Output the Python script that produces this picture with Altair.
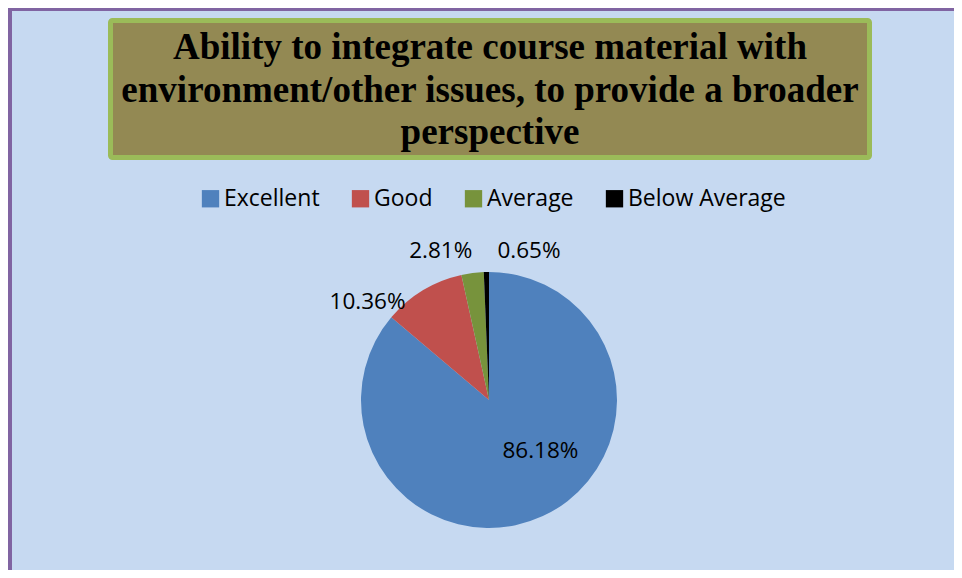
import altair as alt
import pandas as pd

categories = ["Excellent", "Good", "Average", "Below Average"]
values = [86.18, 10.36, 2.81, 0.65]
colors = ["#4F81BD", "#C0504D", "#77933C", "#000000"]
title_lines = [
    "Ability to integrate course material with",
    "environment/other issues, to provide a broader",
    "perspective",
]

df = pd.DataFrame({"category": categories, "value": values,
                   "rank": list(range(len(categories)))})
dummy = pd.DataFrame({"a": [0]})

W, H = 946, 562
CX, CY = 481, 392
R = 128

theta_scale = alt.Scale(domain=[0, 100], range=[0, 6.283185307179586])
color_scale = alt.Scale(domain=categories, range=colors)

base = alt.Chart(df).transform_stack(
    stack="value", groupby=[], as_=["v0", "v1"],
    sort=[alt.SortField("rank", order="ascending")],
).transform_calculate(
    mid="(datum.v0 + datum.v1) / 2",
    label="format(datum.value, '.2f') + '%'",
)

# decorative frame
left_border = alt.Chart(dummy).mark_rect(color="#8064A2").encode(
    x=alt.value(0), x2=alt.value(4), y=alt.value(0), y2=alt.value(H))
top_border = alt.Chart(dummy).mark_rect(color="#8064A2").encode(
    x=alt.value(0), x2=alt.value(W), y=alt.value(0), y2=alt.value(3))

title_box = alt.Chart(dummy).mark_rect(
    fill="#938953", stroke="#9BBB59", strokeWidth=5, cornerRadius=2
).encode(x=alt.value(102.5), x2=alt.value(861.5), y=alt.value(12.5), y2=alt.value(149.5))

title_text = alt.Chart(dummy).mark_text(
    font="Liberation Serif", fontWeight="bold", fontSize=37, color="black",
    align="center", baseline="alphabetic", lineHeight=42.5
).encode(x=alt.value(482), y=alt.value(51), text=alt.value(title_lines))

pie = base.mark_arc(outerRadius=R).encode(
    theta=alt.Theta("v0:Q", scale=theta_scale),
    theta2="v1:Q",
    color=alt.Color(
        "category:N", scale=color_scale,
        legend=alt.Legend(
            orient="none", legendX=191, legendY=179, direction="horizontal",
            title=None, symbolType="square", symbolSize=300, symbolStrokeWidth=0,
            symbolOpacity=1, labelFont="Open Sans", labelFontSize=23,
            labelColor="black", columnPadding=29, labelOffset=2,
        ),
    ),
    x=alt.value(CX), y=alt.value(CY),
)

label_style = {
    "Excellent": dict(radius=70, dx=22, dy=-13),
    "Good": dict(radius=150, dx=-44, dy=30),
    "Average": dict(radius=150, dx=-29, dy=0),
    "Below Average": dict(radius=150, dx=43, dy=1),
}
label_layers = []
for cat in categories:
    st = label_style[cat]
    label_layers.append(
        base.transform_filter(alt.datum.category == cat).mark_text(
            font="Open Sans", fontSize=22.5, color="black", align="center",
            baseline="middle", radius=st["radius"], dx=st["dx"], dy=st["dy"],
        ).encode(
            theta=alt.Theta("mid:Q", scale=theta_scale),
            text="label:N",
            x=alt.value(CX), y=alt.value(CY),
        )
    )

chart = alt.layer(
    left_border, top_border, title_box, title_text, pie, *label_layers
).properties(
    width=W, height=H, autosize="none", padding=0, background="#C6D9F1"
).configure_view(stroke=None)

chart.save("out.html", embed_options={"renderer": "svg", "actions": False})
